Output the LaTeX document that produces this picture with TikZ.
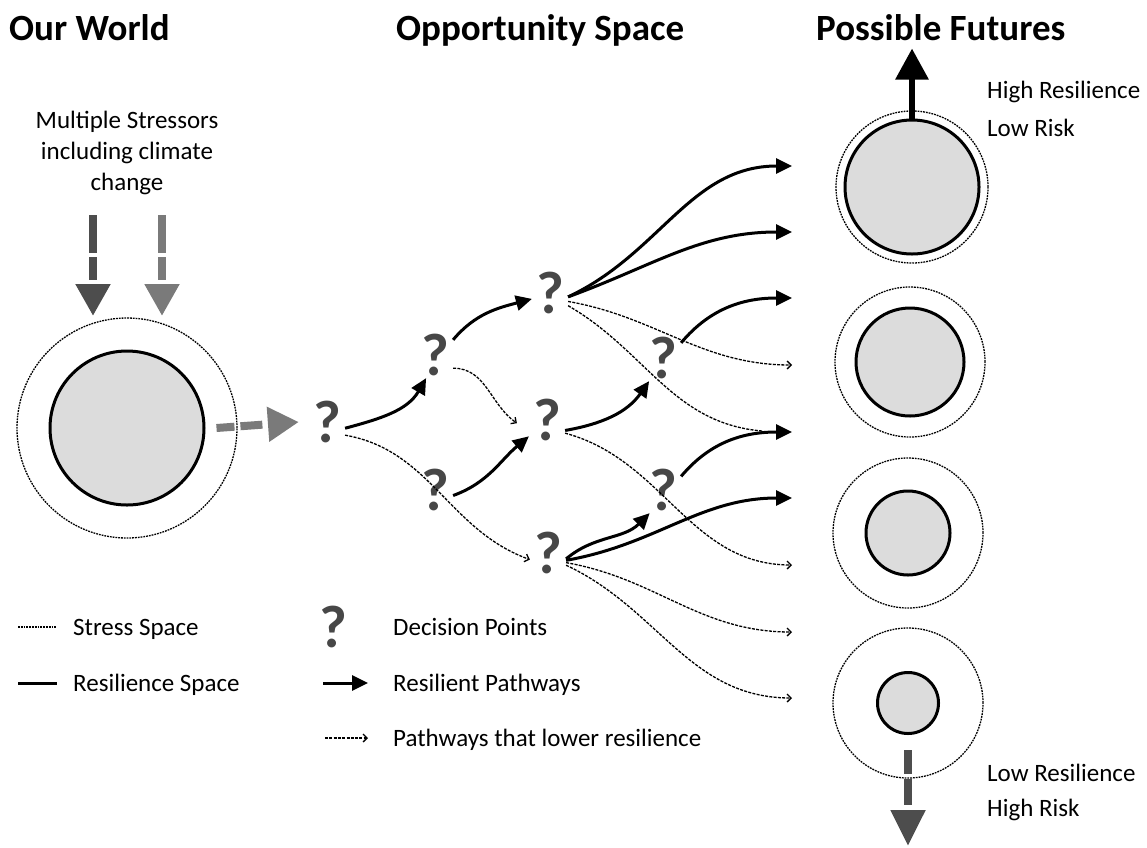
\documentclass[tikz,border=0pt]{standalone}
\usepackage{fontspec}
\setmainfont{Carlito}
\usetikzlibrary{arrows.meta,positioning}
\definecolor{qgray}{HTML}{474747}
\definecolor{fillgray}{HTML}{DCDCDC}
\definecolor{darkstress}{HTML}{4D4D4D}
\definecolor{lightstress}{HTML}{7A7A7A}
\tikzset{
  resil/.style={circle,draw=black,line width=3pt,fill=fillgray,inner sep=0pt},
  stress/.style={circle,draw=black,line width=1.3pt,dash pattern=on 1.8pt off 1pt,inner sep=0pt},
  dotline/.style={line width=1.3pt,dash pattern=on 1.8pt off 1pt},
  decision/.style={font=\fontsize{60}{60}\bfseries\selectfont,text=qgray,inner xsep=4pt,inner ysep=2pt},
  good/.style={line width=3pt,-{Triangle[length=16pt,width=15pt]}},
  weak/.style={line width=1.3pt,dash pattern=on 3pt off 1.3pt,-{Straight Barb[length=4pt,width=8pt]}},
  heading/.style={font=\fontsize{37}{44}\bfseries\selectfont,anchor=base west,inner sep=0pt},
  txt/.style={font=\fontsize{25}{31}\selectfont,anchor=west,inner sep=0pt,text height=16pt,text depth=0pt},
  bigdash/.style={line width=8pt}
}

\begin{document}
\begin{tikzpicture}[x=1pt,y=1pt]
\useasboundingbox (0,0) rectangle (1147,-847);
% headings
\node[heading] (ow) at (9,-40) {Our World};
\node[heading] (os) at (396,-40) {Opportunity Space};
\node[heading] (pf) at (816,-40) {Possible Futures};

% our world
\node[font=\fontsize{25}{31}\selectfont,align=center] (strs) at (127,-153) {Multiple Stressors\\including climate\\change};
\node[stress,minimum size=220pt] (ws) at (127,-428) {};
\node[resil,minimum size=154pt] (wr) at (127,-428) {};
\draw[bigdash,darkstress,dash pattern=on 38pt off 4pt on 23pt off 30pt,-{Triangle[length=32pt,width=33pt]}] (93,-215) -- (93,-316);
\draw[bigdash,lightstress,dash pattern=on 38pt off 4pt on 23pt off 30pt,-{Triangle[length=32pt,width=33pt]}] (162,-215) -- (162,-316);

% decision points
\node[decision] (q0) at (327,-422) {?};
\node[decision] (q1) at (435,-355) {?};
\node[decision] (q2) at (435,-490) {?};
\node[decision] (q3) at (550,-293) {?};
\node[decision] (q4) at (547,-420) {?};
\node[decision] (q5) at (548,-553) {?};
\node[decision] (q6) at (663,-358) {?};
\node[decision] (q7) at (663,-490) {?};
\draw[bigdash,lightstress,dash pattern=on 18pt off 6pt on 22pt off 30pt,-{Triangle[length=31pt,width=33pt]}] ([xshift=11pt]wr.east) -- ([xshift=-10pt]q0.west);

\foreach \i/\y in {1/166,2/232,3/298,4/365,5/432,6/498,7/565,8/632,9/698}
  \coordinate (t\i) at (792,-\y);
\coordinate (m5) at (762,-431);

% resilient pathways
\draw[good] (q0.-19) to[out=15,in=240] (q1.249);
\draw[good] (q1.40) to[out=50,in=195] (q3.198);
\draw[good] (q2.-17) to[out=20,in=220] (q4.222);
\draw[good] (q3.-12) to[out=25,in=180] (t1);
\draw[good] (q3.-12) to[out=20,in=180] (t2);
\draw[good] (q4.-30) to[out=10,in=235] (q6.239);
\draw[good] (q5.-18) to[out=40,in=225] (q7.240);
\draw[good] (q5.-22) to[out=10,in=180] (t6);
\draw[good] (q6.40) to[out=50,in=180] (t3);
\draw[good] (q7.37) to[out=50,in=180] (t5);

% pathways that lower resilience
\draw[weak] (q0.-36) to[out=-10,in=160] (q5.200);
\draw[weak] (q1.-36) to[out=0,in=145] ([xshift=-12pt]q4.190);
\draw[weak] (q3.-25) to[out=-10,in=180] (t4);
\draw[weak,-] (q3.-35) to[out=-30,in=175] (m5);
\draw[weak] (q4.-36) to[out=-15,in=180] (t7);
\draw[weak] (q5.-28) to[out=-10,in=180] (t8);
\draw[weak] (q5.-34) to[out=-25,in=180] (t9);

% possible futures
\node[stress,minimum size=152pt] (s1) at (912,-187) {};
\node[resil,minimum size=134pt] (f1) at (912,-187) {};
\node[stress,minimum size=150pt] (s2) at (910,-362) {};
\node[resil,minimum size=108pt] (f2) at (910,-362) {};
\node[stress,minimum size=150pt] (s3) at (908,-533) {};
\node[resil,minimum size=84pt] (f3) at (908,-533) {};
\node[stress,minimum size=150pt] (s4) at (908,-703) {};
\node[resil,minimum size=61pt] (f4) at (908,-703) {};
\draw[line width=6pt,-{Triangle[length=31pt,width=32pt]}] (f1.north) -- ++(0,70);
\draw[bigdash,darkstress,dash pattern=on 24pt off 5pt on 26pt off 30pt,-{Triangle[length=36pt,width=33pt]}] ([yshift=-15pt]f4.south) -- (908,-846);
\node[txt] (hres) at (987,-90) {High Resilience};
\node[txt] (lrisk) at (987,-128) {Low Risk};
\node[txt] (lres) at (987,-773) {Low Resilience};
\node[txt] (hrisk) at (987,-808) {High Risk};

% legend
\coordinate (la) at (18,-627);
\coordinate (lb) at (57,-627);
\draw[dotline] (la) -- (lb);
\node[txt] (lss) at (73,-627) {Stress Space};
\coordinate (lc) at (18,-683);
\coordinate (ld) at (57,-683);
\draw[line width=3pt] (lc) -- (ld);
\node[txt] (lrs) at (73,-683) {Resilience Space};
\node[decision] (lq) at (333,-627) {?};
\node[txt] (ldp) at (393,-627) {Decision Points};
\coordinate (le) at (323,-683);
\coordinate (lf) at (368,-683);
\draw[good] (le) -- (lf);
\node[txt] (lrp) at (393,-683) {Resilient Pathways};
\coordinate (lg) at (325,-738);
\coordinate (lh) at (368,-738);
\draw[weak] (lg) -- (lh);
\node[txt] (llp) at (393,-738) {Pathways that lower resilience};
\end{tikzpicture}
\end{document}
